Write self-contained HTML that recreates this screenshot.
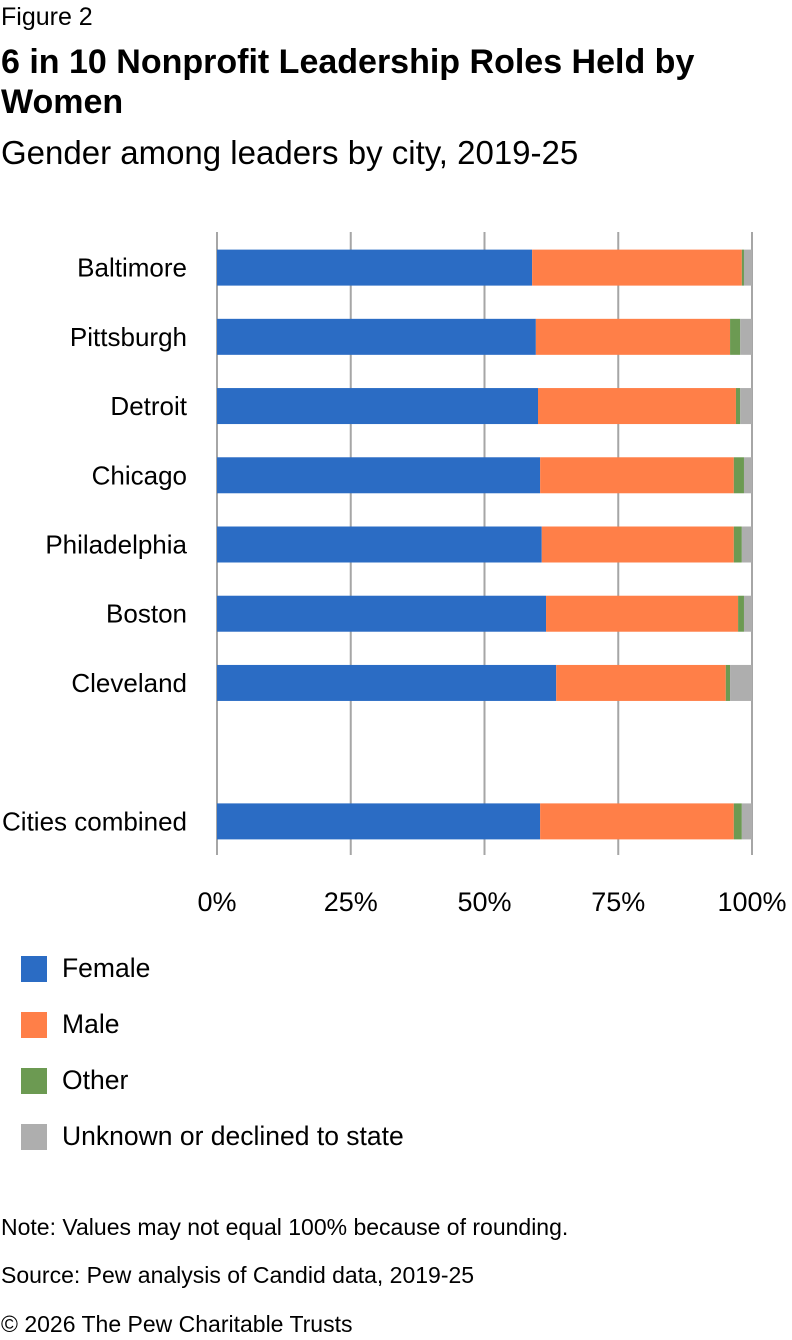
<!DOCTYPE html>
<html><head><meta charset="utf-8"><style>
body{margin:0;width:792px;height:1340px;background:#fff;font-family:"Liberation Sans",sans-serif;color:#000;position:relative;overflow:hidden}
.t{position:absolute;white-space:nowrap}
</style></head><body>
<div class="t" style="left:1px;top:3px;font-size:25px">Figure 2</div>
<div class="t" style="left:1px;top:42px;font-size:34px;font-weight:bold;line-height:40px;white-space:normal;width:790px">6 in 10 Nonprofit Leadership Roles Held by Women</div>
<div class="t" style="left:1px;top:134px;font-size:33px">Gender among leaders by city, 2019-25</div>
<svg id="chart" width="792" height="930" style="position:absolute;left:0;top:0"></svg>
<div>
<div class="t" style="left:21px;top:956px"><span style="display:inline-block;width:26px;height:26px;background:#2b6cc4;vertical-align:middle"></span><span style="position:absolute;left:41px;top:-3px;font-size:26.5px">Female</span></div>
<div class="t" style="left:21px;top:1012px"><span style="display:inline-block;width:26px;height:26px;background:#ff7f48;vertical-align:middle"></span><span style="position:absolute;left:41px;top:-3px;font-size:26.5px">Male</span></div>
<div class="t" style="left:21px;top:1068px"><span style="display:inline-block;width:26px;height:26px;background:#6c9a52;vertical-align:middle"></span><span style="position:absolute;left:41px;top:-3px;font-size:26.5px">Other</span></div>
<div class="t" style="left:21px;top:1124px"><span style="display:inline-block;width:26px;height:26px;background:#aeaeae;vertical-align:middle"></span><span style="position:absolute;left:41px;top:-3px;font-size:26.5px">Unknown or declined to state</span></div>
</div>
<div class="t" style="left:1px;top:1214px;font-size:23px">Note: Values may not equal 100% because of rounding.</div>
<div class="t" style="left:1px;top:1262px;font-size:23px">Source: Pew analysis of Candid data, 2019-25</div>
<div class="t" style="left:1px;top:1311px;font-size:23px">© 2026 The Pew Charitable Trusts</div>
<script>
const categories=["Baltimore","Pittsburgh","Detroit","Chicago","Philadelphia","Boston","Cleveland","","Cities combined"];
const female=[58.9,59.6,60.0,60.4,60.7,61.5,63.4,null,60.4];
const male=[39.2,36.3,37.0,36.2,35.9,35.9,31.7,null,36.2];
const other=[0.4,1.9,0.8,1.9,1.5,1.1,0.8,null,1.5];
const unknown=[1.5,2.2,2.2,1.5,1.9,1.5,4.1,null,1.9];
const ticks=[0,25,50,75,100];
const tickLabels=["0%","25%","50%","75%","100%"];
const colors=["#2b6cc4","#ff7f48","#6c9a52","#aeaeae"];
const svg=document.getElementById('chart');
const NS="http://www.w3.org/2000/svg";
const x0=217,x1=752,yTop=232,yBot=855;
const xs=v=>x0+(x1-x0)*v/100;
const slot=(yBot-yTop)/categories.length;
const yc=i=>yTop+slot*(i+0.5)+1;
const bh=36;
ticks.forEach((t,i)=>{
 const l=document.createElementNS(NS,'line');
 l.setAttribute('x1',xs(t));l.setAttribute('x2',xs(t));l.setAttribute('y1',yTop);l.setAttribute('y2',yBot);
 l.setAttribute('stroke','#a6a6a6');l.setAttribute('stroke-width','2');
 
 
 svg.appendChild(l);
 const tx=document.createElementNS(NS,'text');
 tx.setAttribute('x',xs(t));tx.setAttribute('y',911);tx.setAttribute('text-anchor','middle');
 tx.setAttribute('font-size','27');tx.textContent=tickLabels[i];
 
 
 svg.appendChild(tx);
});
categories.forEach((c,i)=>{
 if(female[i]==null)return;
 const tx=document.createElementNS(NS,'text');
 tx.setAttribute('x',187);tx.setAttribute('y',yc(i)+9);tx.setAttribute('text-anchor','end');
 tx.setAttribute('font-size','26');tx.textContent=c;
 
 
 svg.appendChild(tx);
 let acc=0;
 [female[i],male[i],other[i],unknown[i]].forEach((v,k)=>{
  const r=document.createElementNS(NS,'rect');
  r.setAttribute('x',xs(acc));r.setAttribute('width',xs(acc+v)-xs(acc));
  r.setAttribute('y',yc(i)-bh/2);r.setAttribute('height',bh);r.setAttribute('fill',colors[k]);
  
  
  svg.appendChild(r);acc+=v;
 });
});
</script>
</body></html>
